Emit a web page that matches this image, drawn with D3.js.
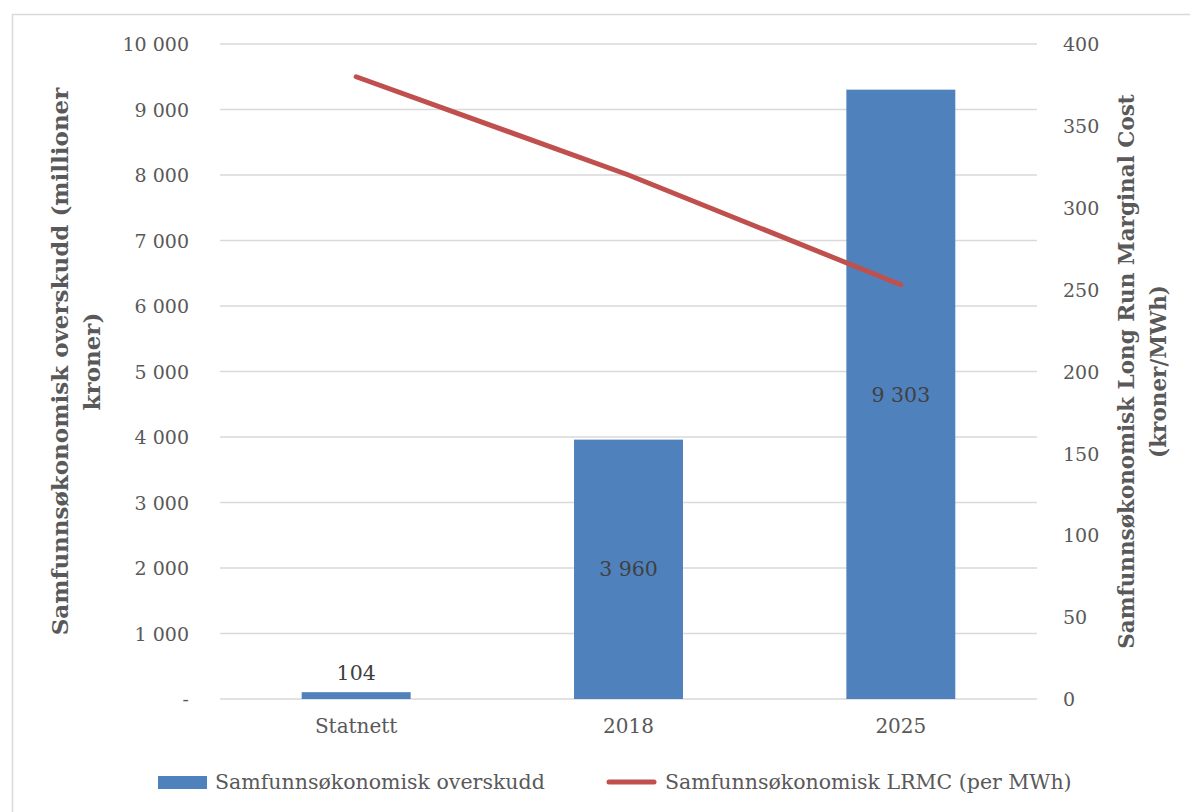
<!DOCTYPE html>
<html>
<head>
<meta charset="utf-8">
<script src="https://cdn.jsdelivr.net/npm/d3@7"></script>
<style>
  body { margin: 0; background: #fff; }
  text { font-family: "DejaVu Serif", serif; fill: #595959; }
</style>
</head>
<body>
<div id="chart"></div>
<script>
// chart data
const categories = ["Statnett", "2018", "2025"];
const overskudd = [104, 3960, 9303];      // millioner kroner (venstre akse)
const lrmc = [380, 320, 253];             // kroner/MWh (høyre akse)
const leftTicks = [0, 1000, 2000, 3000, 4000, 5000, 6000, 7000, 8000, 9000, 10000];
const rightTicks = [0, 50, 100, 150, 200, 250, 300, 350, 400];

const width = 1190, height = 812;
const margin = {left: 220, right: 153, top: 44, bottom: 113};

const svg = d3.select("#chart").append("svg")
    .attr("width", width)
    .attr("height", height);

// chart frame
svg.append("rect")
    .attr("x", 12.5).attr("y", 14.5)
    .attr("width", 1190).attr("height", 820)
    .attr("fill", "none")
    .attr("stroke", "#d9d9d9")
    .attr("stroke-width", 1.5);

const x = d3.scaleBand()
    .domain(categories)
    .range([margin.left, width - margin.right]);

const y = d3.scaleLinear()
    .domain([0, 10000])
    .range([height - margin.bottom, margin.top]);

const y2 = d3.scaleLinear()
    .domain([0, 400])
    .range([height - margin.bottom, margin.top]);

const fmt = v => v === 0 ? "-" : d3.format(",")(v).replace(/,/g, " ");

// gridlines
svg.append("g")
    .selectAll("line")
    .data(leftTicks)
    .join("line")
    .attr("x1", margin.left)
    .attr("x2", width - margin.right)
    .attr("y1", d => y(d))
    .attr("y2", d => y(d))
    .attr("stroke", "#d9d9d9")
    .attr("stroke-width", 1.5);

// left axis
const leftAxis = svg.append("g")
    .attr("transform", `translate(${margin.left - 28},0)`)
    .call(d3.axisLeft(y).tickValues(leftTicks).tickFormat(fmt).tickSize(0));
leftAxis.select(".domain").remove();
leftAxis.selectAll("text").attr("font-size", 19).attr("dy", "0.35em");

// right axis
const rightAxis = svg.append("g")
    .attr("transform", `translate(${width - margin.right + 23},0)`)
    .call(d3.axisRight(y2).tickValues(rightTicks).tickSize(0));
rightAxis.select(".domain").remove();
rightAxis.selectAll("text").attr("font-size", 19).attr("dy", "0.35em");

// bottom axis
const bottomAxis = svg.append("g")
    .attr("transform", `translate(0,${height - margin.bottom})`)
    .call(d3.axisBottom(x).tickSize(0).tickPadding(20));
bottomAxis.select(".domain").remove();
bottomAxis.selectAll("text").attr("font-size", 20);

// bars
const barW = x.bandwidth() * 0.4;
svg.append("g")
    .selectAll("rect")
    .data(overskudd)
    .join("rect")
    .attr("x", (d, i) => x(categories[i]) + (x.bandwidth() - barW) / 2)
    .attr("y", d => y(d))
    .attr("width", barW)
    .attr("height", d => y(0) - y(d))
    .attr("fill", "#4f81bd");

// bar labels
svg.append("g")
    .selectAll("text")
    .data(overskudd)
    .join("text")
    .attr("x", (d, i) => x(categories[i]) + x.bandwidth() / 2)
    .attr("y", d => d < 1000 ? y(d) - 12 : (y(d) + y(0)) / 2)
    .attr("dy", d => d < 1000 ? "0" : "0.35em")
    .attr("text-anchor", "middle")
    .attr("font-size", 20.5)
    .style("fill", "#404040")
    .text(d => fmt(d));

// line
const line = d3.line()
    .x((d, i) => x(categories[i]) + x.bandwidth() / 2)
    .y(d => y2(d));

svg.append("path")
    .datum(lrmc)
    .attr("d", line)
    .attr("fill", "none")
    .attr("stroke", "#c0504d")
    .attr("stroke-width", 5)
    .attr("stroke-linecap", "round");

// axis titles
const midY = (margin.top + height - margin.bottom) / 2;
const leftTitle = svg.append("text")
    .attr("transform", `translate(68,${midY - 10}) rotate(-90)`)
    .attr("text-anchor", "middle")
    .attr("font-size", 23)
    .attr("font-weight", "bold");
leftTitle.append("tspan").attr("x", 0).attr("dy", 0).text("Samfunnsøkonomisk overskudd (millioner");
leftTitle.append("tspan").attr("x", 0).attr("dy", 32).text("kroner)");

const rightTitle = svg.append("text")
    .attr("transform", `translate(1134,${midY}) rotate(-90)`)
    .attr("text-anchor", "middle")
    .attr("font-size", 21.5)
    .attr("font-weight", "bold");
rightTitle.append("tspan").attr("x", 0).attr("dy", 0).text("Samfunnsøkonomisk Long Run Marginal Cost");
rightTitle.append("tspan").attr("x", 0).attr("dy", 32).text("(kroner/MWh)");

// legend
const legend = svg.append("g");
legend.append("rect")
    .attr("x", 158).attr("y", 776)
    .attr("width", 49).attr("height", 13)
    .attr("fill", "#4f81bd");
legend.append("text")
    .attr("x", 215).attr("y", 789)
    .attr("font-size", 20.5)
    .text("Samfunnsøkonomisk overskudd");
legend.append("line")
    .attr("x1", 609).attr("x2", 654)
    .attr("y1", 782).attr("y2", 782)
    .attr("stroke", "#c0504d")
    .attr("stroke-width", 5)
    .attr("stroke-linecap", "round");
legend.append("text")
    .attr("x", 665).attr("y", 789)
    .attr("font-size", 20.5)
    .text("Samfunnsøkonomisk LRMC (per MWh)");
</script>
</body>
</html>
